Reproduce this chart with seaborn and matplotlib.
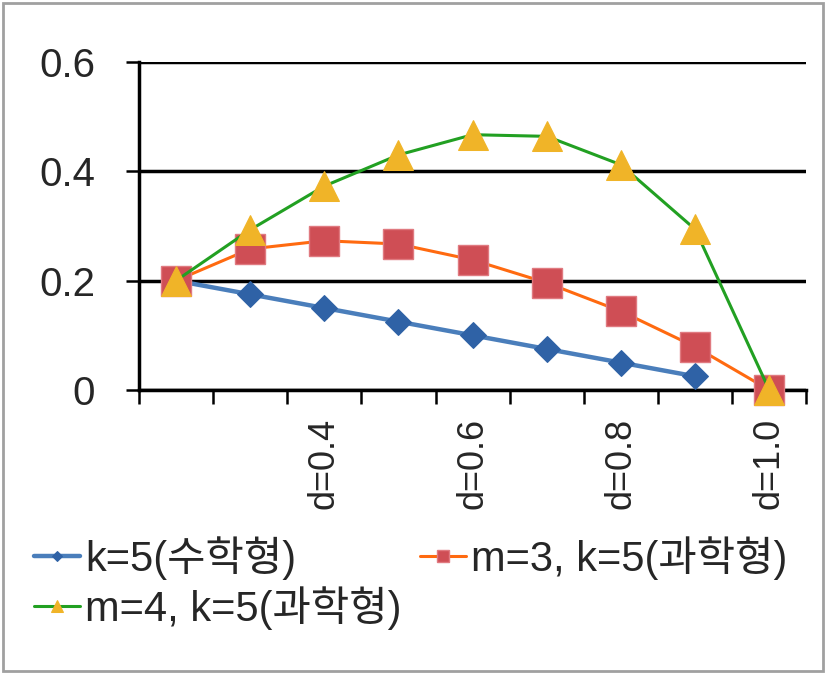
import matplotlib
matplotlib.use('Agg')
import matplotlib.pyplot as plt
import seaborn as sns
import pandas as pd
import numpy as np
from matplotlib.patches import Rectangle

# data
d_vals = [0.2, 0.3, 0.4, 0.5, 0.6, 0.7, 0.8, 0.9, 1.0]
x_labels = ['', '', 'd=0.4', '', 'd=0.6', '', 'd=0.8', '', 'd=1.0']
k5_math = [0.2, 0.175, 0.15, 0.125, 0.1, 0.075, 0.05, 0.025, np.nan]
m3_sci = [0.2, 0.258, 0.273, 0.267, 0.238, 0.196, 0.144, 0.079, 0.0]
m4_sci = [0.2, 0.293, 0.373, 0.430, 0.467, 0.464, 0.412, 0.294, 0.0]
names = ['k=5(수학형)', 'm=3, k=5(과학형)', 'm=4, k=5(과학형)']

df = pd.DataFrame({'pos': range(len(d_vals)), 'd': d_vals,
                   names[0]: k5_math, names[1]: m3_sci, names[2]: m4_sci})

sns.set_style('white')
plt.rcParams['font.family'] = ['Liberation Sans', 'Noto Sans CJK KR', 'DejaVu Sans']

fig = plt.figure(figsize=(8.27, 6.74), dpi=100)
ax = fig.add_axes([0.168, 0.4214, 0.807, 0.4866])

sns.lineplot(data=df, x='pos', y=names[0], ax=ax, color='#4a7ebb', lw=3.2,
             marker='D', ms=13, markerfacecolor='#2f62a6', markeredgecolor='#2f62a6',
             label=names[0], zorder=3, clip_on=False)
sns.lineplot(data=df, x='pos', y=names[1], ax=ax, color='#ff6a10', lw=2.2,
             marker='s', ms=22, markerfacecolor='#cf4e55', markeredgecolor='#e07a80',
             markeredgewidth=1, label=names[1], zorder=4, clip_on=False)
sns.lineplot(data=df, x='pos', y=names[2], ax=ax, color='#22a022', lw=2.2,
             marker='^', ms=22, markerfacecolor='#f0b428', markeredgecolor='#f0b428',
             label=names[2], zorder=5, clip_on=False)

ax.set_xlim(-0.5, 8.5)
ax.set_ylim(0, 0.6)
ax.set_yticks([0, 0.2, 0.4, 0.6])
ax.set_yticklabels(['0', '0.2', '0.4', '0.6'])
ax.set_xticks(np.arange(-0.5, 9, 1.0))
ax.set_xticklabels([])
ax.set_xticks(df['pos'], minor=True)
ax.set_xticklabels(x_labels, minor=True, rotation=90, va='top')
ax.set_xlabel('')
ax.set_ylabel('')

ax.yaxis.grid(True, color='black', lw=2.5)
ax.set_axisbelow(True)
for s in ['top', 'right']:
    ax.spines[s].set_visible(False)
for s in ['left', 'bottom']:
    ax.spines[s].set_color('black')
    ax.spines[s].set_linewidth(2.5)

ax.tick_params(axis='y', which='major', length=9.5, width=1.8, color='black',
               labelsize=29, pad=22, left=True)
ax.tick_params(axis='x', which='major', length=10, width=1.8, color='black',
               bottom=True, direction='out')
ax.tick_params(axis='x', which='minor', length=0, labelsize=26, pad=20)

ax.get_legend().remove()
handles, labels = ax.get_legend_handles_labels()
# row-major order: k5 | m3 on first row, m4 on second
order = [0, 2, 1]
leg = fig.legend([handles[i] for i in order], [labels[i] for i in order],
                 loc='upper left', bbox_to_anchor=(-0.004, 0.26),
                 ncol=2, frameon=False, fontsize=30, handlelength=1.1,
                 handletextpad=0.12, columnspacing=0.45, labelspacing=0.15,
                 markerscale=0.4)

fig.patches.append(Rectangle((0.004, 0.005), 0.991, 0.99, transform=fig.transFigure,
                             fill=False, ec='#a0a0a0', lw=2))

fig.savefig('out.png', dpi=100)
